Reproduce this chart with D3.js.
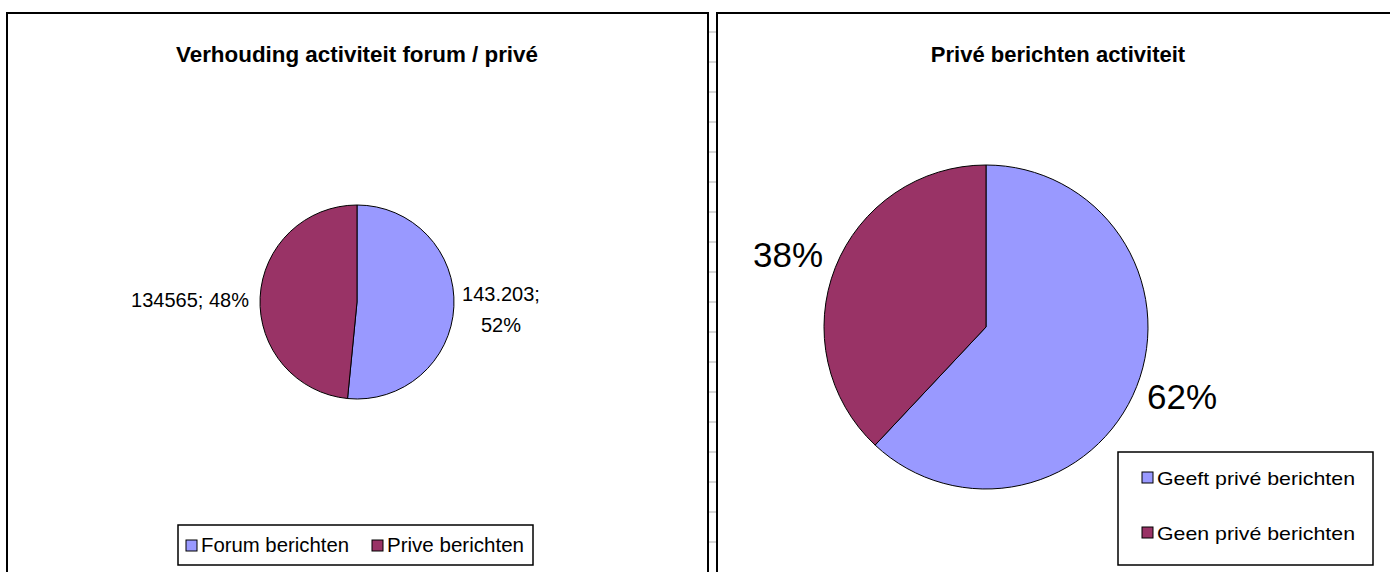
<!DOCTYPE html>
<meta charset="utf-8">
<style>
body {
  margin: 0;
  background: #fff;
  font-family: Arial, "Liberation Sans", sans-serif;
}
.frame {
  fill: #fff;
  stroke: #000;
  stroke-width: 2px;
}
.slice {
  stroke: #000;
  stroke-width: 1px;
}
.title {
  font-weight: bold;
  fill: #000;
}
</style>
<body>
<svg width="1390" height="572"></svg>
<script src="https://cdn.jsdelivr.net/npm/d3@7"></script>
<script>
// left chart: forum vs private messages
var forumLabels = ["Forum berichten", "Prive berichten"];
var forumValues = [143203, 134565];
var forumText = [["143.203;", "52%"], ["134565; 48%"]];

// right chart: share of members sending private messages
var priveLabels = ["Geeft privé berichten", "Geen privé berichten"];
var priveValues = [62, 38];
var priveText = ["62%", "38%"];

var colors = ["#9999FF", "#993366"];

var svg = d3.select("svg");

// spreadsheet row lines between the two chart objects
svg.selectAll(".row")
    .data(d3.range(32, 572, 30))
  .enter().append("line")
    .attr("x1", 709).attr("x2", 716)
    .attr("y1", function(d) { return d; })
    .attr("y2", function(d) { return d; })
    .attr("stroke", "#b0b0b0");

svg.append("rect").attr("class", "frame")
    .attr("x", 7).attr("y", 13).attr("width", 701).attr("height", 580);
svg.append("rect").attr("class", "frame")
    .attr("x", 717).attr("y", 13).attr("width", 700).attr("height", 580);

var pie = d3.pie().sort(null).value(function(d) { return d; });

// ---- left chart
var g1 = svg.append("g");

g1.append("text").attr("class", "title")
    .attr("x", 357).attr("y", 62)
    .attr("text-anchor", "middle")
    .attr("textLength", 362).attr("lengthAdjust", "spacingAndGlyphs")
    .style("font-size", "22px")
    .text("Verhouding activiteit forum / privé");

var arc1 = d3.arc().innerRadius(0).outerRadius(97);
var p1 = g1.append("g").attr("transform", "translate(357,302)");
p1.selectAll("path")
    .data(pie(forumValues))
  .enter().append("path")
    .attr("class", "slice")
    .attr("d", arc1)
    .attr("fill", function(d, i) { return colors[i]; });

g1.append("text")
    .attr("x", 501).attr("y", 301)
    .attr("text-anchor", "middle")
    .style("font-size", "20px")
  .selectAll("tspan")
    .data(forumText[0])
  .enter().append("tspan")
    .attr("x", 501)
    .attr("dy", function(d, i) { return i ? 31 : 0; })
    .text(function(d) { return d; });

g1.append("text")
    .attr("x", 249).attr("y", 307)
    .attr("text-anchor", "end")
    .style("font-size", "20px")
    .text(forumText[1][0]);

// legend
var leg1 = g1.append("g");
leg1.append("rect")
    .attr("x", 178).attr("y", 525).attr("width", 355).attr("height", 40)
    .attr("fill", "#fff").attr("stroke", "#000").attr("stroke-width", 1.5);
var legX1 = [186, 372];
var legW1 = [148, 137];
forumLabels.forEach(function(l, i) {
  leg1.append("rect")
      .attr("x", legX1[i]).attr("y", 540).attr("width", 11).attr("height", 11)
      .attr("fill", colors[i]).attr("stroke", "#000");
  leg1.append("text")
      .attr("x", legX1[i] + 15).attr("y", 552)
      .attr("textLength", legW1[i]).attr("lengthAdjust", "spacingAndGlyphs")
      .style("font-size", "20px")
      .text(l);
});

// ---- right chart
var g2 = svg.append("g");

g2.append("text").attr("class", "title")
    .attr("x", 1058).attr("y", 62)
    .attr("text-anchor", "middle")
    .style("font-size", "22px")
    .text("Privé berichten activiteit");

var arc2 = d3.arc().innerRadius(0).outerRadius(162);
var p2 = g2.append("g").attr("transform", "translate(986,327)");
p2.selectAll("path")
    .data(pie(priveValues))
  .enter().append("path")
    .attr("class", "slice")
    .attr("d", arc2)
    .attr("fill", function(d, i) { return colors[i]; });

var labelPos = [[1147, 409], [753, 267]];
priveText.forEach(function(t, i) {
  g2.append("text")
      .attr("x", labelPos[i][0]).attr("y", labelPos[i][1])
      .style("font-size", "35px")
      .text(t);
});

var leg2 = g2.append("g");
leg2.append("rect")
    .attr("x", 1118).attr("y", 452).attr("width", 255).attr("height", 113)
    .attr("fill", "#fff").attr("stroke", "#000").attr("stroke-width", 1.5);
var legY2 = [472, 527];
priveLabels.forEach(function(l, i) {
  leg2.append("rect")
      .attr("x", 1142).attr("y", legY2[i]).attr("width", 11).attr("height", 11)
      .attr("fill", colors[i]).attr("stroke", "#000");
  leg2.append("text")
      .attr("x", 1157).attr("y", legY2[i] + 13)
      .attr("textLength", 198).attr("lengthAdjust", "spacingAndGlyphs")
      .style("font-size", "19px")
      .text(l);
});
</script>
</body>
